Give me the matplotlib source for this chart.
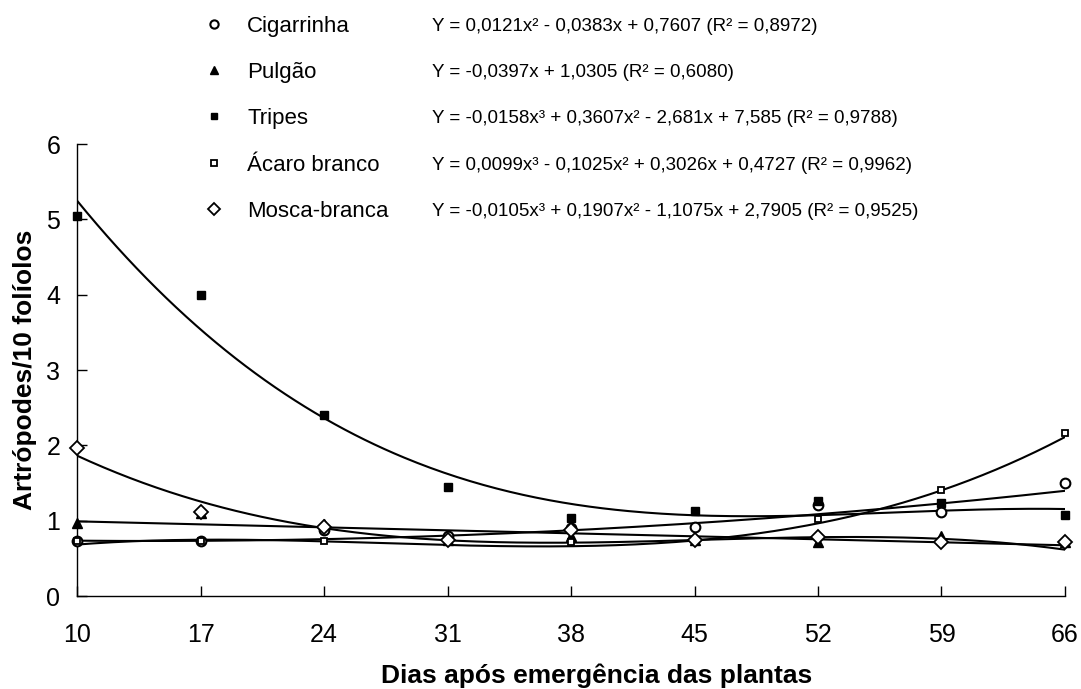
import numpy as np
import matplotlib
matplotlib.use("Agg")
import matplotlib.pyplot as plt
from matplotlib import font_manager

# data (artropodes / 10 foliolos)
days       = [10, 17, 24, 31, 38, 45, 52, 59, 66]
cigarrinha = [0.73, 0.73, 0.88, 0.80, 0.90, 0.92, 1.21, 1.11, 1.50]
pulgao     = [0.97, 1.10, 0.95, 0.74, 0.79, 0.75, 0.72, 0.79, 0.72]
tripes     = [5.05, 4.00, 2.40, 1.45, 1.03, 1.13, 1.26, 1.24, 1.08]
acaro      = [0.73, 0.73, 0.73, 0.72, 0.72, 0.75, 1.02, 1.41, 2.17]
mosca      = [1.96, 1.12, 0.92, 0.75, 0.88, 0.74, 0.78, 0.72, 0.72]

# trend line coefficients as printed (highest power first, x = sample index 1..9)
coef_cig    = [0.0121, -0.0383, 0.7607]
coef_pulgao = [-0.0397, 1.0305]
coef_tripes = [-0.0158, 0.3607, -2.681, 7.585]
coef_acaro  = [0.0099, -0.1025, 0.3026, 0.4727]
coef_mosca  = [-0.0105, 0.1907, -1.1075, 2.7905]

names = ["Cigarrinha", "Pulgão", "Tripes", "Ácaro branco", "Mosca-branca"]
equations = [
    "Y = 0,0121x² - 0,0383x + 0,7607 (R² = 0,8972)",
    "Y = -0,0397x + 1,0305 (R² = 0,6080)",
    "Y = -0,0158x³ + 0,3607x² - 2,681x + 7,585 (R² = 0,9788)",
    "Y = 0,0099x³ - 0,1025x² + 0,3026x + 0,4727 (R² = 0,9962)",
    "Y = -0,0105x³ + 0,1907x² - 1,1075x + 2,7905 (R² = 0,9525)",
]

installed = {f.name for f in font_manager.fontManager.ttflist}
plt.rcParams["font.family"] = ["Liberation Sans", "DejaVu Sans"]
eq_font = ["Liberation Sans Narrow", "Liberation Sans"] if "Liberation Sans Narrow" in installed else ["Liberation Sans"]

fig = plt.figure(figsize=(10.81, 6.89), dpi=100)
ax = fig.add_axes([77 / 1081, 1 - 596 / 689, (1065 - 77) / 1081, (596 - 144) / 689])

series = [cigarrinha, pulgao, tripes, acaro, mosca]
coefs = [coef_cig, coef_pulgao, coef_tripes, coef_acaro, coef_mosca]
styles = [
    dict(marker="o", ms=7, mfc="white", mec="black", mew=1.5),
    dict(marker="^", ms=6.5, mfc="black", mec="black", mew=1),
    dict(marker="s", ms=5.5, mfc="black", mec="black", mew=1),
    dict(marker="s", ms=5, mfc="white", mec="black", mew=1.3),
    dict(marker="D", ms=7, mfc="white", mec="black", mew=1.3),
]

d = np.array(days, dtype=float)
d_fine = np.linspace(d[0], d[-1], 300)
x_fine = (d_fine - d[0]) / (d[1] - d[0]) + 1

handles = []
for vals, c, st, name in zip(series, coefs, styles, names):
    ax.plot(d_fine, np.polyval(c, x_fine), color="black", lw=1.5, zorder=2)
    h, = ax.plot(d, vals, ls="none", clip_on=False, zorder=3, label=name, **st)
    handles.append(h)

ax.set_xlim(10, 66)
ax.set_ylim(0, 6)
ax.set_xticks(days)
ax.set_yticks(range(0, 7))
ax.tick_params(direction="in", length=7, width=1, labelsize=18, colors="black")
ax.tick_params(axis="x", pad=19.5)
ax.tick_params(axis="y", pad=12)
for s in ["top", "right"]:
    ax.spines[s].set_visible(False)
for s in ["left", "bottom"]:
    ax.spines[s].set_linewidth(1)

ax.set_xlabel("Dias após emergência das plantas", fontsize=19, fontweight="bold")
ax.xaxis.set_label_coords((597 - 77) / 988, (596 - 664) / 452)
ax.set_ylabel("Artrópodes/10 folíolos", fontsize=19, fontweight="bold", labelpad=7)

leg = fig.legend(handles=handles, loc="upper left", bbox_to_anchor=(187 / 1081, 1.0),
                 frameon=False, fontsize=16, labelspacing=1.14, handlelength=1.0,
                 handletextpad=1.0, markerscale=0.85, borderaxespad=0.3)

fig.canvas.draw()
inv = fig.transFigure.inverted()
for txt, eq in zip(leg.get_texts(), equations):
    bb = txt.get_window_extent()
    yc = inv.transform((0, (bb.y0 + bb.y1) / 2))[1]
    fig.text(432 / 1081, yc, eq, fontsize=13.5, family=eq_font, va="center", ha="left")

fig.savefig("out.png", dpi=100)
